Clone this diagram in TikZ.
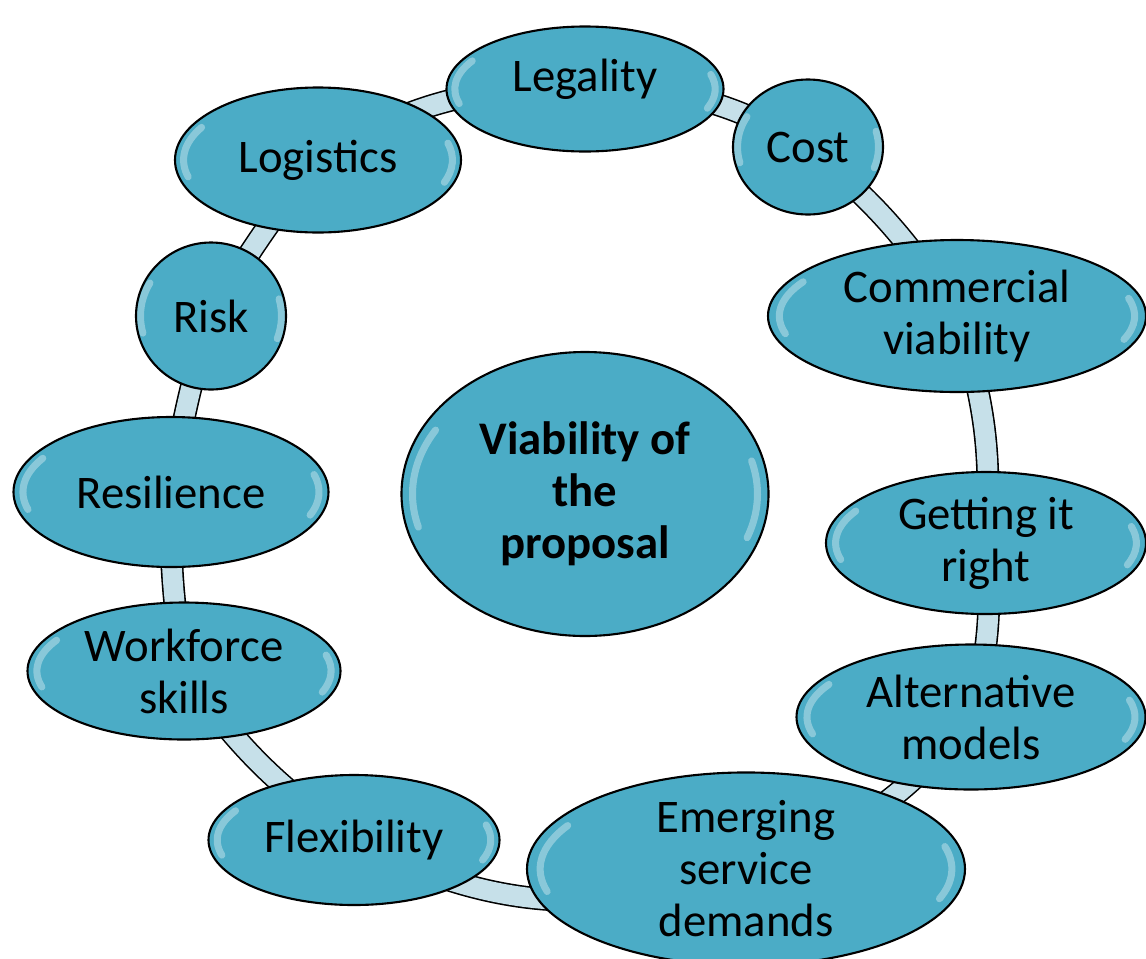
\documentclass[tikz,border=0pt]{standalone}
\usepackage{fontspec}
\setmainfont{Carlito}
\usetikzlibrary{shapes.geometric,backgrounds,calc}
\definecolor{bubblefill}{HTML}{4BACC6}
\definecolor{ringfill}{HTML}{C6E0E9}
\tikzset{
  bubble/.style={draw=black, line width=0.6pt, ellipse, fill=bubblefill, inner sep=0pt, align=center, font=\fontsize{13.3}{14.8}\selectfont,
    path picture={
      \draw[white, opacity=0.35, line width=2pt, line cap=round]
        let \p1=(path picture bounding box.north east), \p2=(path picture bounding box.center),
            \n1={0.94*(\x1-\x2)}, \n2={0.9*(\y1-\y2)} in
        ($(\p2)+({\n1*cos(150)},{\n2*sin(150)})$) arc[start angle=150, end angle=195, x radius=\n1, y radius=\n2]
        ($(\p2)+({\n1*cos(-20)},{\n2*sin(-20)})$) arc[start angle=-20, end angle=15, x radius=\n1, y radius=\n2];
    }},
  ring/.style={draw=black, line width=0.45pt, double=ringfill, double distance=5.6pt}
}
\begin{document}
\begin{tikzpicture}
			\useasboundingbox (0,0) rectangle (11.46,-9.58);
			\node[bubble, minimum width=2.77cm, minimum height=1.25cm] (legality) at (5.85,-0.89) {\raisebox{0.1cm}[\height][\depth]{Legality}};
			\node[bubble, minimum width=1.50cm, minimum height=1.35cm] (cost) at (8.08,-1.47) {Cost};
			\node[bubble, minimum width=3.78cm, minimum height=1.52cm] (commercial) at (9.57,-3.16) {Commercial\\viability};
			\node[bubble, minimum width=3.20cm, minimum height=1.42cm] (getting) at (9.86,-5.43) {Getting it\\right};
			\node[bubble, minimum width=3.49cm, minimum height=1.45cm] (alternative) at (9.71,-7.17) {Alternative\\models};
			\node[bubble, minimum width=4.38cm, minimum height=1.78cm] (emerging) at (7.46,-8.69) {Emerging\\service\\demands};
			\node[bubble, minimum width=2.91cm, minimum height=1.30cm] (flexibility) at (3.54,-8.40) {Flexibility};
			\node[bubble, minimum width=3.13cm, minimum height=1.37cm] (workforce) at (1.84,-6.71) {Workforce\\skills};
			\node[bubble, minimum width=3.15cm, minimum height=1.50cm] (resilience) at (1.71,-4.92) {Resilience};
			\node[bubble, minimum width=1.50cm, minimum height=1.47cm] (risk) at (2.11,-3.16) {Risk};
			\node[bubble, minimum width=2.86cm, minimum height=1.45cm] (logistics) at (3.18,-1.60) {Logistics};
			\node[bubble, minimum width=3.67cm, minimum height=2.84cm, font=\fontsize{13.3}{14.8}\selectfont\bfseries] (viability) at (5.85,-4.94) {Viability of\\the\\proposal};
			
			% the ring behind the bubbles
			\begin{scope}[on background layer]
				\draw[ring] (legality.center) to[bend left=16] (cost.center);
				\draw[ring] (cost.center) to[bend left=9] (commercial.center);
				\draw[ring] (commercial.center) to[bend left=11] (getting.center);
				\draw[ring] (getting.center) to[bend left=10] (alternative.center);
				\draw[ring] (alternative.center) to[bend left=17] (emerging.center);
				\draw[ring] (emerging.center) to[bend left=23] (flexibility.center);
				\draw[ring] (flexibility.center) to[bend left=10] (workforce.center);
				\draw[ring] (workforce.center) to[bend left=5] (resilience.center);
				\draw[ring] (resilience.center) to[bend left=4] (risk.center);
				\draw[ring] (risk.center) to[bend left=4] (logistics.center);
				\draw[ring] (logistics.center) to[bend left=17] (legality.center);
			\end{scope}
		\end{tikzpicture}
\end{document}
